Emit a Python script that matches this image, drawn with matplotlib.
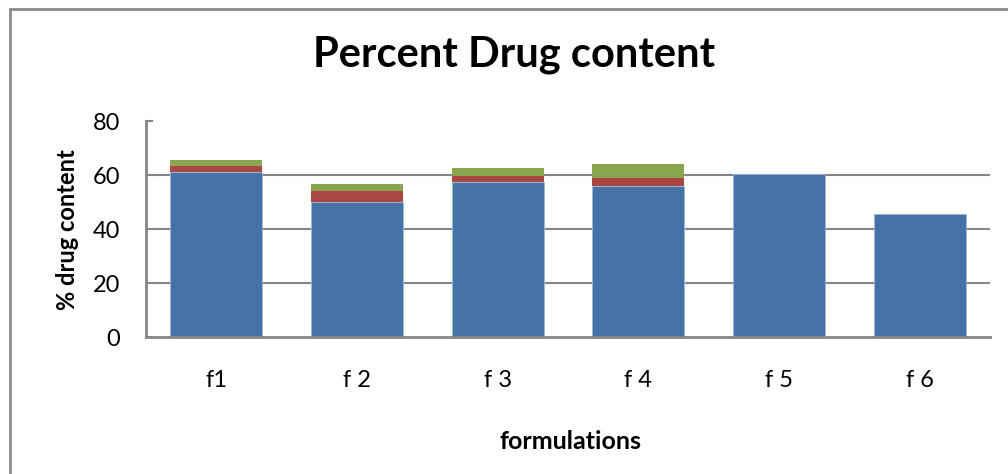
import matplotlib.pyplot as plt
import matplotlib.patches as patches
import numpy as np

plt.rcParams['font.family'] = ['Lato', 'DejaVu Sans']

formulations = ["f1", "f 2", "f 3", "f 4", "f 5", "f 6"]
series_1 = [61.0, 50.0, 57.3, 56.0, 60.3, 45.5]
series_2 = [2.2, 4.2, 2.2, 2.9, 0, 0]
series_3 = [2.2, 2.4, 3.0, 5.2, 0, 0]
yticks = [0, 20, 40, 60, 80]

fig = plt.figure(figsize=(10.08, 4.74), dpi=100)
ax = fig.add_axes([146 / 1008, 1 - 337 / 474, (990 - 146) / 1008, (337 - 121) / 474])

# chart frame like the Excel chart area
frame = patches.Rectangle((10 / 1008, -0.05), 1.2, 1 - 9 / 474 + 0.05, transform=fig.transFigure,
                          fill=False, edgecolor='#8c8c8c', linewidth=2, clip_on=False)
fig.patches.append(frame)

x = np.arange(len(formulations))
w = 0.655
grid_c = '#868686'

for yv in yticks[1:-1]:
    ax.axhline(yv, color=grid_c, linewidth=1.5, zorder=1)

b1 = np.array(series_1)
b2 = np.array(series_2)
b3 = np.array(series_3)
ax.bar(x, b1, w, color='#4572A7', edgecolor='#9db7d8', linewidth=0.6, zorder=2)
ax.bar(x, b2, w, bottom=b1, color='#AA4643', linewidth=0, zorder=2)
ax.bar(x, b3, w, bottom=b1 + b2, color='#89A54E', linewidth=0, zorder=2)

ax.set_xlim(-0.5, len(formulations) - 0.5)
ax.set_ylim(0, 80)
ax.set_yticks(yticks)
ax.set_xticks(x)
ax.set_xticklabels(formulations)

for s in ['top', 'right']:
    ax.spines[s].set_visible(False)
for s in ['left', 'bottom']:
    ax.spines[s].set_color(grid_c)
    ax.spines[s].set_linewidth(2)

ax.tick_params(axis='y', direction='in', length=5, width=1.5, color=grid_c, labelsize=17, pad=18.5)
ax.tick_params(axis='x', length=0, labelsize=17, pad=24)

fig.text(514 / 1008, 1 - 67 / 474, "Percent Drug content", fontsize=30, fontweight='bold',
         ha='center', va='baseline')
ax.set_xlabel("formulations", fontsize=18, fontweight='bold')
ax.xaxis.set_label_coords((570 - 146) / 844, (337 - 430) / 216)
ax.set_ylabel("% drug content", fontsize=17, fontweight='bold')
ax.yaxis.set_label_coords((79 - 146) / 844, (337 - 230) / 216)

fig.savefig("out.png", dpi=100)
